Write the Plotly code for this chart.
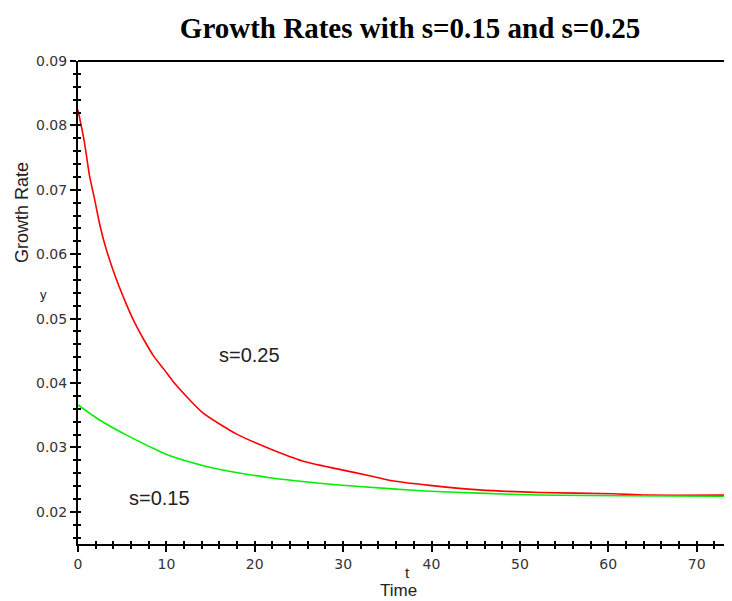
import plotly.graph_objects as go

# Data
t_s025 = [0, 0.7, 1.3, 1.9, 2.4, 3.0, 4.1, 5.3, 6.4, 7.5, 8.6, 9.8, 10.9, 14.1, 17.9,
          21.7, 25.4, 29.2, 33.0, 35.2, 39.8, 45.4, 52.2, 60.5, 64.3, 74]
g_s025 = [0.0824, 0.0776, 0.0722, 0.0684, 0.0650, 0.0617, 0.0570, 0.0528, 0.0494, 0.0466,
          0.0441, 0.0420, 0.0400, 0.0354, 0.0321, 0.0298, 0.0279, 0.0267, 0.0256, 0.0249,
          0.0241, 0.0234, 0.0230, 0.0228, 0.0226, 0.0226]

t_s015 = [0, 2.4, 5.5, 9.2, 10.4, 14.1, 17.9, 21.7, 25.4, 29.2, 35.2, 39.8, 45.4, 52.2, 62, 74]
g_s015 = [0.0366, 0.0343, 0.0319, 0.0294, 0.0287, 0.0272, 0.0261, 0.0253, 0.0247, 0.0242,
          0.0236, 0.0232, 0.0229, 0.0226, 0.0225, 0.0224]

x_range = [0, 74]
y_range = [0.015, 0.09]
title_text = "Growth Rates with s=0.15 and s=0.25"

# page body has an 8px margin: compensate so the plot lands where the reference has it
OFF = 8
W, H = 732 - OFF, 601 - OFF
L, T, R, B = 78 - OFF, 61 - OFF, 0, 57
PW = W - L - R
PH = H - T - B


def px_x(px):
    return (px - 78) / PW


def px_y(py):
    return (544 - py) / PH


fig = go.Figure()
fig.add_trace(go.Scatter(x=t_s025, y=g_s025, mode="lines", name="s=0.25",
                         line=dict(color="#ff0000", width=1.6, shape="spline", smoothing=0.6),
                         showlegend=False))
fig.add_trace(go.Scatter(x=t_s015, y=g_s015, mode="lines", name="s=0.15",
                         line=dict(color="#00ee00", width=1.6, shape="spline", smoothing=0.6),
                         showlegend=False))
# invisible trace to activate overlay axes (inside tick marks so ticks cross the axis)
fig.add_trace(go.Scatter(x=t_s015, y=g_s015, xaxis="x2", yaxis="y2", mode="lines",
                         line=dict(width=0, color="rgba(0,0,0,0)"), hoverinfo="skip",
                         showlegend=False))

tickfont = dict(family="DejaVu Sans", size=14, color="#333333")
common = dict(showgrid=False, zeroline=False, showline=True, linecolor="black", linewidth=2)

fig.update_layout(
    width=W, height=H,
    margin=dict(l=L, r=R, t=T, b=B, autoexpand=False),
    paper_bgcolor="white", plot_bgcolor="white",
    title=dict(text=title_text, x=px_x(410), xref="paper", xanchor="center",
               y=1 - 20 / H, yref="container", yanchor="middle",
               font=dict(family="Liberation Serif", size=29, color="black", weight="bold")),
    xaxis=dict(range=x_range, tick0=0, dtick=10, ticks="outside", ticklen=6, tickwidth=2,
               tickcolor="black", tickfont=tickfont,
               minor=dict(dtick=2, ticks="outside", ticklen=3, tickwidth=2, tickcolor="black"),
               **common),
    yaxis=dict(range=y_range, tick0=0.01, dtick=0.01, tickformat=".2f", ticks="outside",
               ticklen=6, tickwidth=2, tickcolor="black", tickfont=tickfont,
               minor=dict(dtick=0.002, ticks="outside", ticklen=3, tickwidth=2, tickcolor="black"),
               **common),
    xaxis2=dict(range=x_range, overlaying="x", anchor="y2", side="bottom", tick0=0, dtick=10,
                ticks="inside", ticklen=3, tickwidth=2, tickcolor="black", showticklabels=False,
                minor=dict(dtick=2, ticks="inside", ticklen=3, tickwidth=2, tickcolor="black"),
                showgrid=False, zeroline=False, showline=False),
    yaxis2=dict(range=y_range, overlaying="y", anchor="x2", side="left", tick0=0.01, dtick=0.01,
                ticks="inside", ticklen=3, tickwidth=2, tickcolor="black", showticklabels=False,
                minor=dict(dtick=0.002, ticks="inside", ticklen=3, tickwidth=2, tickcolor="black"),
                showgrid=False, zeroline=False, showline=False),
)

# top frame line
fig.add_shape(type="line", xref="paper", yref="paper", x0=0, x1=1, y0=1, y1=1,
              line=dict(color="black", width=2))

lab = dict(family="Liberation Sans", color="#222222")
ctr = dict(showarrow=False, xanchor="center", yanchor="middle")
fig.add_annotation(text="Growth Rate", xref="paper", yref="paper", x=px_x(22), y=px_y(213),
                   textangle=-90, font=dict(size=18, **lab), **ctr)
fig.add_annotation(text="y", xref="paper", yref="paper", x=px_x(43), y=px_y(294),
                   font=dict(size=13, **lab), **ctr)
fig.add_annotation(text="t", xref="paper", yref="paper", x=px_x(407), y=px_y(572),
                   font=dict(size=15, **lab), **ctr)
fig.add_annotation(text="Time", xref="paper", yref="paper", x=px_x(398), y=px_y(590),
                   font=dict(size=17, **lab), **ctr)
fig.add_annotation(text="s=0.25", x=19.4, y=0.0443, font=dict(size=20, **lab), **ctr)
fig.add_annotation(text="s=0.15", x=9.2, y=0.0222, font=dict(size=20, **lab), **ctr)

fig.write_html("out.html")
